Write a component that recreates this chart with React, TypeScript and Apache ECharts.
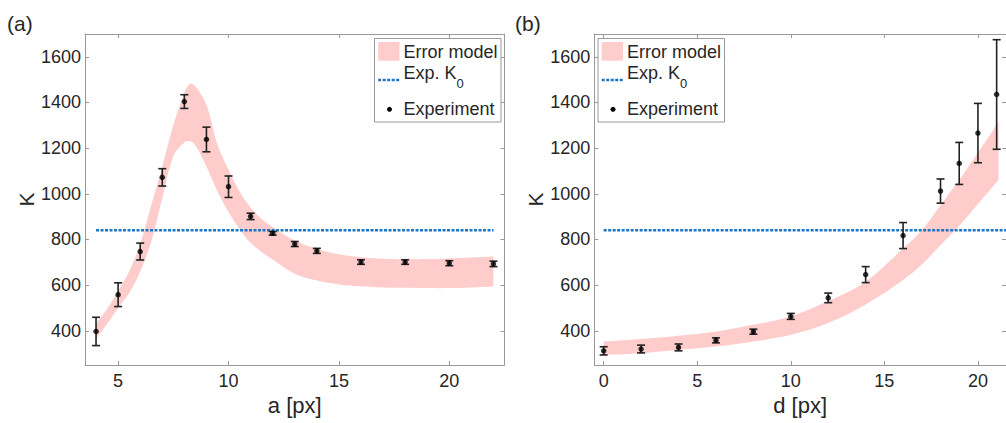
import React, { useEffect, useRef } from "react";
import * as echarts from "echarts";

const FONT = '"Liberation Sans", Arial, sans-serif';
const K0 = 840;
const kTicks = [400, 600, 800, 1000, 1200, 1400, 1600];

// Panel (a): K vs a
const aValues = [4, 5, 6, 7, 8, 9, 10, 11, 12, 13, 14, 16, 18, 20, 22];
const aK = [397, 558, 747, 1072, 1404, 1238, 1031, 901, 827, 780, 750, 701, 701, 696, 693];
const aErr = [62, 52, 37, 38, 30, 54, 47, 14, 8, 11, 11, 10, 10, 11, 12];
const aBandX = [4, 4.5, 5, 5.5, 6, 6.5, 7, 7.5, 8, 8.25, 8.5, 9, 9.5, 10, 10.5, 11, 11.5, 12, 13, 14, 15, 16, 17, 18, 19, 20, 21, 22];
const aBandUpper = [430, 495, 575, 660, 780, 950, 1120, 1300, 1440, 1482, 1470, 1390, 1215, 1105, 1010, 940, 890, 855, 795, 758, 735, 722, 715, 713, 714, 717, 721, 725];
const aBandLower = [365, 430, 500, 565, 660, 790, 980, 1165, 1225, 1230, 1212, 1120, 1010, 920, 845, 785, 745, 712, 650, 620, 603, 595, 590, 588, 587, 587, 590, 594];
const aTicks = [5, 10, 15, 20];

// Panel (b): K vs d
const dValues = [0, 2, 4, 6, 8, 10, 12, 14, 16, 18, 19, 20, 21];
const dK = [312, 320, 327, 358, 396, 463, 544, 646, 817, 1012, 1133, 1266, 1435];
const dErr = [18, 17, 15, 11, 11, 13, 21, 35, 57, 53, 92, 130, 240];
const dBandX = [0, 2, 4, 6, 8, 10, 12, 14, 16, 17, 18, 19, 20, 21.1];
const dBandUpper = [353, 364, 378, 397, 426, 463, 530, 615, 760, 840, 950, 1060, 1180, 1315];
const dBandLower = [295, 302, 317, 331, 353, 382, 434, 515, 622, 690, 775, 860, 955, 1060];
const dTicks = [0, 5, 10, 15, 20];

const AXIS_COLOR = "#999";
const TEXT_COLOR = "#262626";
const BAND_COLOR = "#ffcccc";
const BLUE = "#1b74c4";

function zip(xs: number[], ys: number[]) {
  return xs.map((x, i) => [x, ys[i]]);
}

const plainLabel = (v: number) => String(v);

function xAxes(gridIndex: number, min: number, max: number, ticks: number[], name: string) {
  const common = {
    type: "value",
    gridIndex,
    min,
    max,
    z: 10,
    splitLine: { show: false },
    axisLine: { show: true, onZero: false, lineStyle: { color: AXIS_COLOR, width: 1 } },
    axisTick: { show: true, inside: true, length: 4, customValues: ticks, lineStyle: { color: AXIS_COLOR } },
  };
  return [
    {
      ...common,
      position: "bottom",
      name,
      nameLocation: "middle",
      nameGap: 28,
      nameTextStyle: { fontSize: 22, fontFamily: FONT, color: TEXT_COLOR },
      axisLabel: { show: true, customValues: ticks, formatter: plainLabel, margin: 7, fontSize: 18, fontFamily: FONT, color: TEXT_COLOR },
    },
    { ...common, position: "top", axisLabel: { show: false } },
  ];
}

function yAxes(gridIndex: number) {
  const common = {
    type: "value",
    gridIndex,
    min: 250,
    max: 1700,
    z: 10,
    splitLine: { show: false },
    axisLine: { show: true, onZero: false, lineStyle: { color: AXIS_COLOR, width: 1 } },
    axisTick: { show: true, inside: true, length: 4, customValues: kTicks, lineStyle: { color: AXIS_COLOR } },
  };
  return [
    {
      ...common,
      position: "left",
      name: "K",
      nameLocation: "middle",
      nameGap: 46,
      nameRotate: 90,
      nameTextStyle: { fontSize: 21, fontFamily: FONT, color: TEXT_COLOR },
      axisLabel: { show: true, customValues: kTicks, formatter: plainLabel, margin: 4, fontSize: 18, fontFamily: FONT, color: TEXT_COLOR },
    },
    { ...common, position: "right", axisLabel: { show: false } },
  ];
}

function panelSeries(
  p: number,
  xs: number[],
  ks: number[],
  errs: number[],
  bx: number[],
  bu: number[],
  bl: number[],
  lineFrom: number,
  lineTo: number
) {
  const ax = { xAxisIndex: p * 2, yAxisIndex: p * 2 };
  return [
    {
      ...ax,
      name: "Error model",
      type: "custom",
      silent: true,
      z: 1,
      encode: { x: 0, y: 1 },
      data: [[bx[0], bu[0]]],
      renderItem: (_params: any, api: any) => {
        const up = bx.map((x, i) => api.coord([x, bu[i]]));
        const lo = bx.map((x, i) => api.coord([x, bl[i]])).reverse();
        const pts: number[][] = [];
        pts.push(up[0]);
        up.forEach((q) => pts.push(q));
        pts.push(up[up.length - 1]);
        pts.push(lo[0]);
        lo.forEach((q) => pts.push(q));
        pts.push(lo[lo.length - 1]);
        return {
          type: "polygon",
          shape: { points: pts, smooth: 0.35 },
          style: { fill: BAND_COLOR, stroke: null },
        };
      },
    },
    {
      ...ax,
      name: "Exp. K0",
      type: "line",
      data: [
        [lineFrom, K0],
        [lineTo, K0],
      ],
      symbol: "none",
      silent: true,
      z: 3,
      lineStyle: { color: BLUE, width: 2.5, type: [3, 1.5] },
    },
    {
      ...ax,
      name: "errorbars",
      type: "custom",
      z: 4,
      silent: true,
      clip: false,
      encode: { x: 0, y: 1 },
      data: xs.map((x, i) => [x, ks[i], errs[i]]),
      renderItem: (_params: any, api: any) => {
        const x = api.value(0);
        const y = api.value(1);
        const e = api.value(2);
        const t = api.coord([x, y + e]);
        const b = api.coord([x, y - e]);
        const hw = 4;
        const st = { stroke: "#222", lineWidth: 1.6 };
        return {
          type: "group",
          children: [
            { type: "line", shape: { x1: t[0], y1: t[1], x2: b[0], y2: b[1] }, style: st },
            { type: "line", shape: { x1: t[0] - hw, y1: t[1], x2: t[0] + hw, y2: t[1] }, style: st },
            { type: "line", shape: { x1: b[0] - hw, y1: b[1], x2: b[0] + hw, y2: b[1] }, style: st },
          ],
        };
      },
    },
    {
      ...ax,
      name: "Experiment",
      type: "scatter",
      data: zip(xs, ks),
      symbol: "circle",
      symbolSize: 5.5,
      z: 5,
      silent: true,
      itemStyle: { color: "#000" },
    },
  ];
}

function legendGraphic(x0: number, subX: number) {
  const y0 = 38.5;
  const tx = x0 + 29;
  const ts = { fontSize: 18, fontFamily: FONT, fill: TEXT_COLOR, verticalAlign: "middle", align: "left" };
  return [
    { type: "rect", z: 20, shape: { x: x0, y: y0, width: 126.5, height: 83.5 }, style: { fill: "#fff", stroke: AXIS_COLOR, lineWidth: 1 } },
    { type: "rect", z: 21, shape: { x: x0 + 3.7, y: 42, width: 21.3, height: 18.7 }, style: { fill: BAND_COLOR } },
    { type: "line", z: 21, shape: { x1: x0 + 3.7, y1: 80, x2: x0 + 25, y2: 80 }, style: { stroke: BLUE, lineWidth: 2.5, lineDash: [3, 1.5] } },
    { type: "circle", z: 21, shape: { cx: x0 + 15, cy: 109.3, r: 2.5 }, style: { fill: "#000" } },
    { type: "text", z: 21, x: tx, y: 51.7, style: { ...ts, text: "Error model" } },
    { type: "text", z: 21, x: tx, y: 73.3, style: { ...ts, text: "Exp. K" } },
    { type: "text", z: 21, x: tx + subX, y: 83, style: { ...ts, fontSize: 13, text: "0" } },
    { type: "text", z: 21, x: tx, y: 109.3, style: { ...ts, text: "Experiment" } },
  ];
}

export default function App() {
  const ref = useRef<HTMLDivElement>(null);

  useEffect(() => {
    if (!ref.current) return;
    const chart = echarts.init(ref.current, null, { renderer: "svg" });

    let subX = 52;
    try {
      const ctx = document.createElement("canvas").getContext("2d");
      if (ctx) {
        ctx.font = `18px ${FONT}`;
        subX = ctx.measureText("Exp. K").width;
      }
    } catch (e) {
      /* ignore */
    }

    const option: any = {
      animation: false,
      backgroundColor: "#fff",
      grid: [
        { left: 85, top: 34, width: 419.5, height: 331 },
        { left: 594.3, top: 34, width: 420, height: 331 },
      ],
      xAxis: [...xAxes(0, 3.5, 22.5, aTicks, "a [px]"), ...xAxes(1, -0.5, 21.5, dTicks, "d [px]")],
      yAxis: [...yAxes(0), ...yAxes(1)],
      series: [
        ...panelSeries(0, aValues, aK, aErr, aBandX, aBandUpper, aBandLower, 4, 22),
        ...panelSeries(1, dValues, dK, dErr, dBandX, dBandUpper, dBandLower, 0, 21.5),
      ],
      graphic: [
        { type: "text", x: 7, y: 23, z: 21, style: { text: "(a)", fontSize: 21, fontFamily: FONT, fill: TEXT_COLOR, verticalAlign: "middle", align: "left" } },
        { type: "text", x: 515, y: 23, z: 21, style: { text: "(b)", fontSize: 21, fontFamily: FONT, fill: TEXT_COLOR, verticalAlign: "middle", align: "left" } },
        ...legendGraphic(374.5, subX),
        ...legendGraphic(598, subX),
      ],
    };
    chart.setOption(option);
    return () => chart.dispose();
  }, []);

  return (
    <div
      ref={ref}
      style={{ position: "absolute", left: 0, top: 0, width: 1006, height: 423 }}
    />
  );
}
